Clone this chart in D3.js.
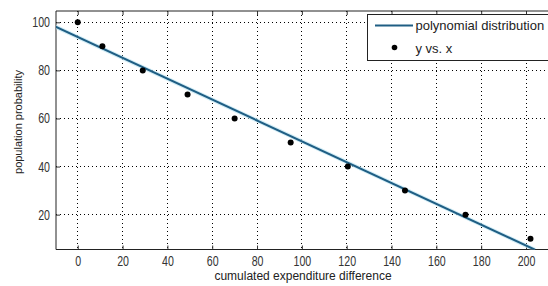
<!DOCTYPE html>
<html><head><meta charset="utf-8">
<script src="https://cdn.jsdelivr.net/npm/d3@7"></script>
<style>body{margin:0;background:#fff}svg{display:block}text{font-family:"Liberation Sans",Arial,sans-serif}</style>
</head><body>
<svg id="c" width="548" height="286"></svg>
<script>
const pointX = [0, 11, 29, 49, 70, 95, 120.5, 146, 173, 202];
const pointY = [100, 90, 80, 70, 60, 50, 40, 30, 20, 10];
const fitX = [-10, 204];
const fitY = [98.2, 5.4];
const xTicks = [0, 20, 40, 60, 80, 100, 120, 140, 160, 180, 200];
const yTicks = [20, 40, 60, 80, 100];
const legendLabels = ["polynomial distribution", "y vs. x"];

const svg = d3.select("#c");
const L = 56, T = 11, R = 548, B = 249.5;
const x0 = d3.scaleLinear().domain([-9.7, 200]).range([L, 526]);
const x = d3.scaleLinear().domain([-9.7, x0.invert(R)]).range([L, R]);
const y = d3.scaleLinear().domain([5.5, 104.7]).range([B, T]);

svg.append("rect").attr("x",L).attr("y",T).attr("width",R-L).attr("height",B-T).attr("fill","#fff");

// grid
const g = svg.append("g");
g.selectAll(".vg").data(xTicks).join("line")
  .attr("x1",d=>x(d)).attr("x2",d=>x(d)).attr("y1",T).attr("y2",B)
  .attr("stroke","#000").attr("stroke-width",1).attr("stroke-dasharray","1,3").attr("shape-rendering","crispEdges");
g.selectAll(".hg").data(yTicks).join("line")
  .attr("y1",d=>y(d)).attr("y2",d=>y(d)).attr("x1",L).attr("x2",R)
  .attr("stroke","#000").attr("stroke-width",1).attr("stroke-dasharray","1,3").attr("shape-rendering","crispEdges");

// axes
const xb = svg.append("g").attr("transform",`translate(0,${B})`)
  .call(d3.axisBottom(x).tickValues(xTicks).tickSize(-4).tickPadding(7));
const xt = svg.append("g").attr("transform",`translate(0,${T})`)
  .call(d3.axisTop(x).tickValues(xTicks).tickSize(-4).tickFormat(""));
const yl = svg.append("g").attr("transform",`translate(${L},0)`)
  .call(d3.axisLeft(y).tickValues(yTicks).tickSize(-4).tickPadding(6));
[xb, xt, yl].forEach(a => {
  a.select(".domain").remove();
  a.selectAll("line").attr("stroke","#333");
  a.selectAll("text").attr("font-size","14px").attr("fill","#333");
});
xb.selectAll("text").attr("transform","scale(0.76,1)");
yl.selectAll("text").attr("x",-6/0.76).attr("transform","scale(0.76,1)");
svg.append("line").attr("x1",L).attr("x2",R).attr("y1",B).attr("y2",B).attr("stroke","#222");
svg.append("line").attr("x1",L).attr("x2",R).attr("y1",T).attr("y2",T).attr("stroke","#222");
svg.append("line").attr("x1",L).attr("x2",L).attr("y1",T).attr("y2",B).attr("stroke","#222");

// clip
svg.append("clipPath").attr("id","clip").append("rect").attr("x",L).attr("y",T).attr("width",R-L).attr("height",B-T);

const fit = fitX.map((d,i)=>[d, fitY[i]]);
const line = d3.line().x(d=>x(d[0])).y(d=>y(d[1]));
svg.append("path").attr("clip-path","url(#clip)").attr("d",line(fit))
  .attr("fill","none").attr("stroke","#bfe6f2").attr("stroke-width",4).attr("opacity",0.7);
svg.append("path").attr("clip-path","url(#clip)").attr("d",line(fit))
  .attr("fill","none").attr("stroke","#1f5e84").attr("stroke-width",2);

svg.selectAll(".pt").data(pointX.map((d,i)=>[d,pointY[i]])).join("circle")
  .attr("cx",d=>x(d[0])).attr("cy",d=>y(d[1])).attr("r",3).attr("fill","#000");

// legend
const lg = svg.append("g");
lg.append("rect").attr("x",367.5).attr("y",14.5).attr("width",190).attr("height",46)
  .attr("fill","#fff").attr("stroke","#222");
lg.append("line").attr("x1",375).attr("x2",413).attr("y1",25.5).attr("y2",25.5)
  .attr("stroke","#1f5e84").attr("stroke-width",2);
lg.append("circle").attr("cx",394.5).attr("cy",47.5).attr("r",2.8).attr("fill","#000");
lg.selectAll("text").data(legendLabels).join("text")
  .attr("x",415.5).attr("y",(d,i)=>i?52.5:30).attr("font-size","13px").attr("fill","#222")
  .text(d=>d);

// labels
svg.append("text").attr("x",303).attr("y",280).attr("text-anchor","middle")
  .attr("font-size","12px").attr("fill","#222").text("cumulated expenditure difference");
svg.append("text").attr("transform","translate(22,122) rotate(-90)").attr("text-anchor","middle")
  .attr("font-size","11px").attr("fill","#222").text("population probability");
</script>
</body></html>
